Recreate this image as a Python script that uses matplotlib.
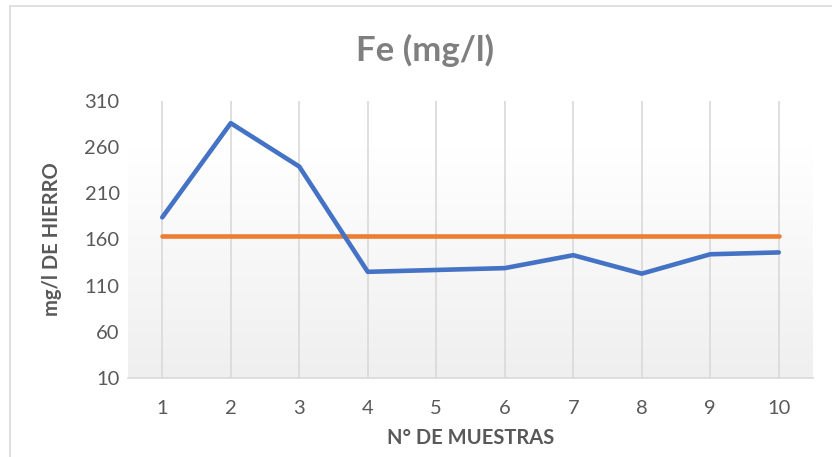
import matplotlib.pyplot as plt
import numpy as np
from matplotlib.patches import Rectangle

# datos de hierro por muestra
muestras = [1, 2, 3, 4, 5, 6, 7, 8, 9, 10]
hierro = [184, 286, 239, 125, 127, 129, 143, 123, 144, 146]
limite = [164, 164, 164, 164, 164, 164, 164, 164, 164, 164]
y_ticks = [10, 60, 110, 160, 210, 260, 310]

plt.rcParams['font.family'] = ['Lato', 'DejaVu Sans']

fig = plt.figure(figsize=(8.32, 4.57), dpi=100)
ax = fig.add_axes([128/832, 1-378/457, (813-128)/832, (378-101)/457])

# marco del grafico
fig.patches.append(Rectangle((10/832, -0.1), 1.2, 1-6/457+0.1, transform=fig.transFigure,
                             fill=False, edgecolor='#d9d9d9', linewidth=1.2))

# fondo degradado del area de trazado
grad = np.linspace(0, 1, 256).reshape(-1, 1)
ax.imshow(grad, extent=[0.5, 10.5, 10, 260], aspect='auto', origin='upper',
          cmap=plt.matplotlib.colors.LinearSegmentedColormap.from_list('g', ['#ffffff', '#efefef']),
          zorder=0)

for x in muestras:
    ax.axvline(x, color='#d9d9d9', linewidth=1.2, zorder=1)

ax.plot(muestras, hierro, color='#4472c4', linewidth=3.3, solid_capstyle='round', zorder=3)
ax.plot(muestras, limite, color='#ed7d31', linewidth=3.3, solid_capstyle='round', zorder=2)

ax.set_xlim(0.5, 10.5)
ax.set_ylim(10, 310)
ax.set_xticks(muestras)
ax.set_yticks(y_ticks)
ax.tick_params(length=0, labelsize=14.5, labelcolor='#595959')
ax.tick_params(axis='x', pad=16)
ax.tick_params(axis='y', pad=6)
for s in ['top', 'right', 'left']:
    ax.spines[s].set_visible(False)
ax.spines['bottom'].set_color('#d9d9d9')
ax.spines['bottom'].set_linewidth(1.2)
ax.set_facecolor('none')

ax.set_xlabel('N° DE MUESTRAS', fontsize=14.5, fontweight='bold', color='#595959', labelpad=8)
ax.set_ylabel('mg/l DE HIERRO', fontsize=14.5, fontweight='bold', color='#595959', labelpad=16)
fig.text(425/832, 1-50/457, 'Fe (mg/l)', fontsize=25, fontweight='bold', color='#7f7f7f',
         ha='center', va='center')

fig.savefig('out.png', dpi=100)
